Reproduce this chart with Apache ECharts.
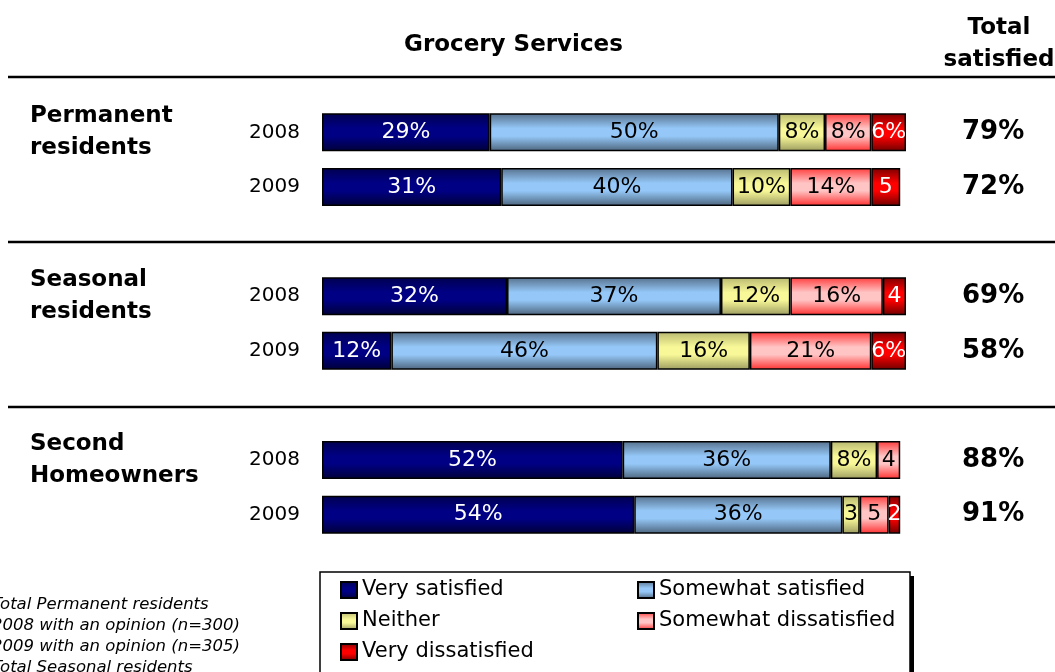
<!DOCTYPE html>
<html>
<head>
<meta charset="utf-8">
<title>Grocery Services</title>
<script src="https://cdn.jsdelivr.net/npm/echarts@6/dist/echarts.min.js"></script>
<style>
  html, body { margin: 0; padding: 0; background: #fff; }
  #chart { width: 1055px; height: 672px; }
</style>
</head>
<body>
<div id="chart"></div>
<script>
// rows (blank rows are the gaps between the groups)
const rows = ['Permanent 2008', 'Permanent 2009', ' ', 'Seasonal 2008', 'Seasonal 2009', '  ', 'Second 2008', 'Second 2009']
const years = ['2008', '2009', '', '2008', '2009', '', '2008', '2009']
const groups = ['Permanent\nresidents', '', '', 'Seasonal\nresidents', '', '', 'Second\nHomeowners', '']

const verySatisfied = [29, 31, null, 32, 12, null, 52, 54]
const somewhatSatisfied = [50, 40, null, 37, 46, null, 36, 36]
const neither = [8, 10, null, 12, 16, null, 8, 3]
const somewhatDissatisfied = [8, 14, null, 16, 21, null, 4, 5]
const veryDissatisfied = [6, 5, null, 4, 6, null, null, 2]
const totalSatisfied = [79, 72, null, 69, 58, null, 88, 91]

const notes = [
  'Total Permanent residents',
  '2008 with an opinion (n=300)',
  '2009 with an opinion (n=305)',
  'Total Seasonal residents'
]

const FONT = 'DejaVu Sans'

// vertical shading like the old office charts: darker at the edges
const shade = (edgeTop, mid, edgeBottom) => ({
  type: 'linear', x: 0, y: 0, x2: 0, y2: 1,
  colorStops: [
    { offset: 0, color: edgeTop },
    { offset: 0.4, color: mid },
    { offset: 0.6, color: mid },
    { offset: 1, color: edgeBottom }
  ]
})

const segments = [
  { name: 'Very satisfied', data: verySatisfied, color: shade('#000050', '#000085', '#000038'), text: '#fff' },
  { name: 'Somewhat satisfied', data: somewhatSatisfied, color: shade('#56708c', '#95c8f8', '#4c647c'), text: '#000' },
  { name: 'Neither', data: neither, color: shade('#b8b870', '#f8f898', '#9c9c60'), text: '#000' },
  { name: 'Somewhat dissatisfied', data: somewhatDissatisfied, color: shade('#ff3c3c', '#ffc4c4', '#ff3030'), text: '#000' },
  { name: 'Very dissatisfied', data: veryDissatisfied, color: shade('#7a0000', '#ff0000', '#700000'), text: '#fff' }
]

const series = segments.map(s => ({
  name: s.name,
  type: 'bar',
  stack: 'all',
  barWidth: 38,
  data: s.data,
  itemStyle: {
    color: s.color,
    borderColor: '#000',
    borderWidth: 1.5
  },
  label: {
    show: true,
    position: 'inside',
    color: s.text,
    fontFamily: FONT,
    fontSize: 22,
    // small slices lose the percent sign
    formatter: p => (p.value == null ? '' : (p.value >= 6 ? p.value + '%' : String(p.value)))
  }
}))

const chart = echarts.init(document.getElementById('chart'))

const option = {
  backgroundColor: '#fff',
  animation: false,
  title: [
    {
      text: 'Grocery Services',
      left: 399,
      top: 29,
      textStyle: { fontFamily: FONT, fontSize: 23, fontWeight: 'bold', color: '#000' }
    },
    {
      text: 'Total\nsatisfied',
      left: 994,
      top: 7,
      textAlign: 'center',
      textStyle: { fontFamily: FONT, fontSize: 23, fontWeight: 'bold', color: '#000', lineHeight: 32 }
    }
  ],
  legend: {
    data: segments.map(s => s.name),
    left: 340,
    top: 578,
    width: 600,
    orient: 'horizontal',
    icon: 'rect',
    itemWidth: 16,
    itemHeight: 16,
    itemGap: 7,
    padding: 0,
    textStyle: { fontFamily: FONT, fontSize: 21, color: '#000', width: 268, lineHeight: 24 }
  },
  grid: {
    left: 322,
    right: 149,
    top: 105,
    bottom: 130
  },
  xAxis: {
    type: 'value',
    min: 0,
    max: 101,
    show: false
  },
  yAxis: [
    {
      type: 'category',
      data: rows,
      inverse: true,
      axisLine: { show: false },
      axisTick: { show: false },
      axisLabel: {
        margin: 22,
        fontFamily: FONT,
        fontSize: 20,
        color: '#000',
        formatter: (v, i) => years[i]
      }
    },
    {
      // group names, pushed out to the left edge
      type: 'category',
      data: rows,
      inverse: true,
      position: 'left',
      offset: 292,
      axisLine: { show: false },
      axisTick: { show: false },
      axisLabel: {
        margin: 0,
        align: 'left',
        fontFamily: FONT,
        fontSize: 23,
        fontWeight: 'bold',
        color: '#000',
        lineHeight: 32,
        padding: [0, 0, 18, 0],
        formatter: (v, i) => groups[i]
      }
    },
    {
      // total satisfied column
      type: 'category',
      data: rows,
      inverse: true,
      position: 'right',
      axisLine: { show: false },
      axisTick: { show: false },
      axisLabel: {
        margin: 56,
        fontFamily: FONT,
        fontSize: 26,
        fontWeight: 'bold',
        color: '#000',
        formatter: (v, i) => (totalSatisfied[i] == null ? '' : totalSatisfied[i] + '%')
      }
    }
  ],
  graphic: [
    // horizontal rules between the groups
    { type: 'line', shape: { x1: 8, y1: 77, x2: 1055, y2: 77 }, style: { stroke: '#000', lineWidth: 2.5 } },
    { type: 'line', shape: { x1: 8, y1: 242, x2: 1055, y2: 242 }, style: { stroke: '#000', lineWidth: 2.5 } },
    { type: 'line', shape: { x1: 8, y1: 407, x2: 1055, y2: 407 }, style: { stroke: '#000', lineWidth: 2.5 } },
    // legend frame with its drop shadow
    { type: 'rect', z: 1, shape: { x: 324, y: 576, width: 590, height: 120 }, style: { fill: '#000' } },
    { type: 'rect', z: 2, shape: { x: 320, y: 572, width: 590, height: 120 }, style: { fill: '#fff', stroke: '#000', lineWidth: 1.5 } },
    {
      type: 'text',
      x: -8,
      y: 594,
      style: {
        text: notes.join('\n'),
        fontFamily: FONT,
        fontSize: 16.5,
        fontStyle: 'italic',
        lineHeight: 21,
        fill: '#000'
      }
    }
  ],
  series: series
}

chart.setOption(option)
</script>
</body>
</html>
